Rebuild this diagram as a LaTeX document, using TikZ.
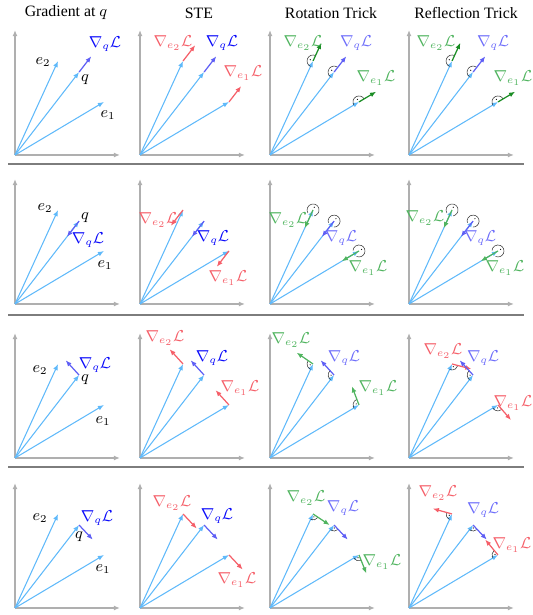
\documentclass[tikz,border=0pt]{standalone}
\usepackage{amsmath, amssymb}
\usepackage{fontspec}
\setmainfont{Liberation Serif}
\usepackage{tikz}
\usetikzlibrary{arrows.meta, calc}
\definecolor{vecblue}{RGB}{95, 185, 250}
\definecolor{axisgray}{RGB}{175, 175, 175}
\definecolor{rulegray}{RGB}{125, 125, 125}
\definecolor{qarrow}{RGB}{95, 95, 245}
\definecolor{qstrong}{RGB}{10, 10, 250}
\definecolor{qlight}{RGB}{110, 110, 250}
\definecolor{stered}{RGB}{245, 95, 105}
\definecolor{greendark}{RGB}{25, 140, 35}
\definecolor{greenlight}{RGB}{80, 180, 95}

% directions of e1, e2 and q (degrees)
\def\angone{30.8}
\def\angtwo{65.4}
\def\angq{52.3}

% axes and the three vectors of one panel
\newcommand{\basispanel}{%
  \coordinate (o) at (0,0);
  \coordinate (xend) at (105,0);
  \coordinate (yend) at (0,125);
  \coordinate (e1) at (\angone:103.6);
  \coordinate (e2) at (\angtwo:103.4);
  \coordinate (q) at (\angq:104.8);
  \draw[axis] (o) -- (xend);
  \draw[axis] (o) -- (yend);
  \draw[vec] (o) -- (e1);
  \draw[vec] (o) -- (e2);
  \draw[vec] (o) -- (q);
}
% gradient arrow: style, tip, angle
\newcommand{\gradarrow}[3]{\draw[#1] (#2) -- ++({#3}:20);}
% angle mark: tip, start angle, end angle
\newcommand{\angmark}[3]{%
  \draw[anglemark] ([shift={({#2}:6)}]#1) arc[start angle={#2}, end angle={#3}, radius=6];
  \fill ([shift={({(#2+#3)/2}:3)}]#1) circle (0.6);
}

\begin{document}
\begin{tikzpicture}[x=0.02cm, y=0.02cm,
    axis/.style={-{Latex[length=3.5pt,width=2.8pt]}, axisgray, line width=0.8pt},
    vec/.style={-{Latex[length=3.5pt,width=2.8pt]}, vecblue, line width=0.6pt},
    qgrad/.style={-{Latex[length=3.5pt,width=2.8pt]}, qarrow, line width=0.7pt},
    redgrad/.style={-{Latex[length=3.5pt,width=2.8pt]}, stered, line width=0.7pt},
    gdgrad/.style={-{Latex[length=3.5pt,width=2.8pt]}, greendark, line width=0.7pt},
    glgrad/.style={-{Latex[length=3.5pt,width=2.8pt]}, greenlight, line width=0.7pt},
    anglemark/.style={black!80, line width=0.3pt},
    lbl/.style={font=\small, inner sep=0pt},
    title/.style={font=\fontsize{9}{11}\selectfont}]
    \useasboundingbox (0,0) rectangle (532,615);

    % Column titles
    \node[title] (t1) at (66,602) {Gradient at $q$};
    \node[title] (t2) at (199,602) {STE};
    \node[title] (t3) at (331,602) {Rotation Trick};
    \node[title] (t4) at (466,602) {Reflection Trick};

    % Row separators
    \foreach \ry in {451, 300, 148}
        \draw[rulegray, line width=1.2pt] (8,\ry) -- (524,\ry);

    % ---------- Row 1: gradient along q ----------
    \begin{scope}[shift={(15,460)}]
        \basispanel
        \gradarrow{qgrad}{q}{\angq}
        \node[lbl] (l11a) at (28,93) {$e_2$};
        \node[lbl] (l11b) at (70,75) {$q$};
        \node[lbl, text=qstrong] (l11c) at (90,111) {$\nabla_q\mathcal{L}$};
        \node[lbl] (l11d) at (93,40) {$e_1$};
    \end{scope}
    \begin{scope}[shift={(140,460)}]
        \basispanel
        \gradarrow{qgrad}{q}{\angq}
        \gradarrow{redgrad}{e2}{\angq}
        \gradarrow{redgrad}{e1}{\angq}
        \node[lbl, text=stered] (l12a) at (33,112) {$\nabla_{e_2}\mathcal{L}$};
        \node[lbl, text=qstrong] (l12b) at (82,112) {$\nabla_q\mathcal{L}$};
        \node[lbl, text=stered] (l12c) at (103,82) {$\nabla_{e_1}\mathcal{L}$};
    \end{scope}
    \begin{scope}[shift={(270,460)}]
        \basispanel
        \angmark{e2}{\angtwo}{\angtwo+180}
        \angmark{q}{\angq}{\angq+180}
        \angmark{e1}{\angone}{\angone+180}
        \gradarrow{gdgrad}{e2}{\angtwo}
        \gradarrow{qgrad}{q}{\angq}
        \gradarrow{gdgrad}{e1}{\angone}
        \node[lbl, text=greenlight] (l13a) at (33,112) {$\nabla_{e_2}\mathcal{L}$};
        \node[lbl, text=qlight] (l13b) at (86,112) {$\nabla_q\mathcal{L}$};
        \node[lbl, text=greenlight] (l13c) at (106,77) {$\nabla_{e_1}\mathcal{L}$};
    \end{scope}
    \begin{scope}[shift={(409,460)}]
        \basispanel
        \angmark{e2}{\angtwo}{\angtwo+180}
        \angmark{q}{\angq}{\angq+180}
        \angmark{e1}{\angone}{\angone+180}
        \gradarrow{gdgrad}{e2}{\angtwo}
        \gradarrow{qgrad}{q}{\angq}
        \gradarrow{gdgrad}{e1}{\angone}
        \node[lbl, text=greenlight] (l14a) at (27,112) {$\nabla_{e_2}\mathcal{L}$};
        \node[lbl, text=qlight] (l14b) at (84,112) {$\nabla_q\mathcal{L}$};
        \node[lbl, text=greenlight] (l14c) at (104,77) {$\nabla_{e_1}\mathcal{L}$};
    \end{scope}

    % ---------- Row 2: gradient against q ----------
    \begin{scope}[shift={(15,311)}]
        \basispanel
        \gradarrow{qgrad}{q}{\angq+180}
        \node[lbl] (l21a) at (30,96) {$e_2$};
        \node[lbl] (l21b) at (70,86) {$q$};
        \node[lbl, text=qstrong] (l21c) at (73,64) {$\nabla_q\mathcal{L}$};
        \node[lbl] (l21d) at (90,39) {$e_1$};
    \end{scope}
    \begin{scope}[shift={(140,311)}]
        \basispanel
        \gradarrow{qgrad}{q}{\angq+180}
        \gradarrow{redgrad}{e2}{\angq+180}
        \gradarrow{redgrad}{e1}{\angq+180}
        \node[lbl, text=stered] (l22a) at (18,84) {$\nabla_{e_2}\mathcal{L}$};
        \node[lbl, text=qstrong] (l22b) at (73,66) {$\nabla_q\mathcal{L}$};
        \node[lbl, text=stered] (l22c) at (88,26) {$\nabla_{e_1}\mathcal{L}$};
    \end{scope}
    \begin{scope}[shift={(270,311)}]
        \basispanel
        \angmark{e2}{\angtwo+215}{\angtwo+505}
        \angmark{q}{\angq+215}{\angq+505}
        \angmark{e1}{\angone+215}{\angone+505}
        \gradarrow{glgrad}{e2}{\angtwo+180}
        \gradarrow{qgrad}{q}{\angq+180}
        \gradarrow{glgrad}{e1}{\angone+180}
        \node[lbl, text=greenlight] (l23a) at (18,84) {$\nabla_{e_2}\mathcal{L}$};
        \node[lbl, text=qlight] (l23b) at (71,66) {$\nabla_q\mathcal{L}$};
        \node[lbl, text=greenlight] (l23c) at (98,36) {$\nabla_{e_1}\mathcal{L}$};
    \end{scope}
    \begin{scope}[shift={(409,311)}]
        \basispanel
        \angmark{e2}{\angtwo+215}{\angtwo+505}
        \angmark{q}{\angq+215}{\angq+505}
        \angmark{e1}{\angone+215}{\angone+505}
        \gradarrow{glgrad}{e2}{\angtwo+180}
        \gradarrow{qgrad}{q}{\angq+180}
        \gradarrow{glgrad}{e1}{\angone+180}
        \node[lbl, text=greenlight] (l24a) at (16,86) {$\nabla_{e_2}\mathcal{L}$};
        \node[lbl, text=qlight] (l24b) at (71,66) {$\nabla_q\mathcal{L}$};
        \node[lbl, text=greenlight] (l24c) at (96,36) {$\nabla_{e_1}\mathcal{L}$};
    \end{scope}

    % ---------- Row 3: gradient turned left of q ----------
    \begin{scope}[shift={(15,157)}]
        \basispanel
        \gradarrow{qgrad}{q}{\angq+80}
        \node[lbl] (l31a) at (25,88) {$e_2$};
        \node[lbl] (l31b) at (70,78) {$q$};
        \node[lbl, text=qstrong] (l31c) at (80,93) {$\nabla_q\mathcal{L}$};
        \node[lbl] (l31d) at (88,37) {$e_1$};
    \end{scope}
    \begin{scope}[shift={(140,157)}]
        \basispanel
        \gradarrow{qgrad}{q}{\angq+80}
        \gradarrow{redgrad}{e2}{\angq+80}
        \gradarrow{redgrad}{e1}{\angq+80}
        \node[lbl, text=stered] (l32a) at (25,120) {$\nabla_{e_2}\mathcal{L}$};
        \node[lbl, text=qstrong] (l32b) at (72,100) {$\nabla_q\mathcal{L}$};
        \node[lbl, text=stered] (l32c) at (100,70) {$\nabla_{e_1}\mathcal{L}$};
    \end{scope}
    \begin{scope}[shift={(270,157)}]
        \basispanel
        \angmark{e2}{\angtwo+80}{\angtwo+180}
        \angmark{q}{\angq+80}{\angq+180}
        \angmark{e1}{\angone+80}{\angone+180}
        \gradarrow{glgrad}{e2}{\angtwo+80}
        \gradarrow{qgrad}{q}{\angq+80}
        \gradarrow{glgrad}{e1}{\angone+80}
        \node[lbl, text=greenlight] (l33a) at (21,118) {$\nabla_{e_2}\mathcal{L}$};
        \node[lbl, text=qlight] (l33b) at (74,100) {$\nabla_q\mathcal{L}$};
        \node[lbl, text=greenlight] (l33c) at (108,70) {$\nabla_{e_1}\mathcal{L}$};
    \end{scope}
    \begin{scope}[shift={(409,157)}]
        \basispanel
        \angmark{e2}{\angtwo-180}{\angtwo-80}
        \angmark{q}{\angq+80}{\angq+180}
        \angmark{e1}{\angone-180}{\angone-80}
        \gradarrow{redgrad}{e2}{\angtwo-80}
        \gradarrow{qgrad}{q}{\angq+80}
        \gradarrow{redgrad}{e1}{\angone-80}
        \node[lbl, text=stered] (l34a) at (34,107) {$\nabla_{e_2}\mathcal{L}$};
        \node[lbl, text=qlight] (l34b) at (74,100) {$\nabla_q\mathcal{L}$};
        \node[lbl, text=stered] (l34c) at (104,55) {$\nabla_{e_1}\mathcal{L}$};
    \end{scope}

    % ---------- Row 4: gradient turned right of q ----------
    \begin{scope}[shift={(15,7)}]
        \basispanel
        \gradarrow{qgrad}{q}{\angq-99}
        \node[lbl] (l41a) at (25,90) {$e_2$};
        \node[lbl] (l41b) at (64,71) {$q$};
        \node[lbl, text=qstrong] (l41c) at (82,90) {$\nabla_q\mathcal{L}$};
        \node[lbl] (l41d) at (88,39) {$e_1$};
    \end{scope}
    \begin{scope}[shift={(140,7)}]
        \basispanel
        \gradarrow{qgrad}{q}{\angq-99}
        \gradarrow{redgrad}{e2}{\angq-99}
        \gradarrow{redgrad}{e1}{\angq-99}
        \node[lbl, text=stered] (l42a) at (32,105) {$\nabla_{e_2}\mathcal{L}$};
        \node[lbl, text=qstrong] (l42b) at (77,92) {$\nabla_q\mathcal{L}$};
        \node[lbl, text=stered] (l42c) at (97,28) {$\nabla_{e_1}\mathcal{L}$};
    \end{scope}
    \begin{scope}[shift={(270,7)}]
        \basispanel
        \angmark{e2}{\angtwo-180}{\angtwo-99}
        \angmark{q}{\angq-180}{\angq-99}
        \angmark{e1}{\angone-180}{\angone-99}
        \gradarrow{glgrad}{e2}{\angtwo-99}
        \gradarrow{qgrad}{q}{\angq-99}
        \gradarrow{glgrad}{e1}{\angone-99}
        \node[lbl, text=greenlight] (l43a) at (36,110) {$\nabla_{e_2}\mathcal{L}$};
        \node[lbl, text=qlight] (l43b) at (73,100) {$\nabla_q\mathcal{L}$};
        \node[lbl, text=greenlight] (l43c) at (112,46) {$\nabla_{e_1}\mathcal{L}$};
    \end{scope}
    \begin{scope}[shift={(409,7)}]
        \basispanel
        \angmark{e2}{\angtwo+99}{\angtwo+180}
        \angmark{q}{\angq-180}{\angq-99}
        \angmark{e1}{\angone+99}{\angone+180}
        \gradarrow{redgrad}{e2}{\angtwo+99}
        \gradarrow{qgrad}{q}{\angq-99}
        \gradarrow{redgrad}{e1}{\angone+99}
        \node[lbl, text=stered] (l44a) at (29,115) {$\nabla_{e_2}\mathcal{L}$};
        \node[lbl, text=qlight] (l44b) at (74,98) {$\nabla_q\mathcal{L}$};
        \node[lbl, text=stered] (l44c) at (103,63) {$\nabla_{e_1}\mathcal{L}$};
    \end{scope}
\end{tikzpicture}
\end{document}
